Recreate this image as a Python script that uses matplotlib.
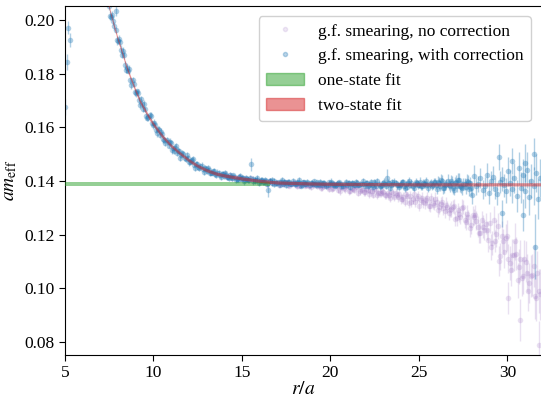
import numpy as np
import matplotlib
matplotlib.use('Agg')
import matplotlib.pyplot as plt
from matplotlib.lines import Line2D
from matplotlib.patches import Patch

plt.rcParams['font.family'] = ['Liberation Serif', 'DejaVu Serif']
plt.rcParams['mathtext.fontset'] = 'stix'
plt.rcParams['font.size'] = 12.5

# g.f. smearing, with correction
r_corr = [5.00, 5.10, 5.20, 5.29, 5.39, 5.57, 5.75, 6.00, 6.40, 6.80, 7.20,
          7.50, 7.62, 7.74, 7.86, 7.90, 7.98, 8.10, 8.22, 8.34, 8.46, 8.58, 8.70, 8.82, 8.94,
          9.06, 9.18, 9.30, 9.42, 9.54, 9.66, 9.78, 9.90, 10.02, 10.14, 10.26, 10.38, 10.50,
          10.62, 10.74, 10.86, 10.98, 11.10, 11.22, 11.34, 11.46, 11.58, 11.70, 11.82, 11.94,
          12.06, 12.18, 12.30, 12.42, 12.54, 12.66, 12.78, 12.90, 13.02, 13.14, 13.26, 13.38,
          13.50, 13.62, 13.74, 13.86, 13.98, 14.10, 14.22, 14.34, 14.46, 14.58, 14.70, 14.82,
          14.94, 15.06, 15.18, 15.30, 15.42, 15.52, 15.64, 15.76, 15.88, 16.00, 16.12, 16.24,
          16.36, 16.48, 16.60, 16.72, 16.84, 16.96,
          17.08, 17.20, 17.32, 17.44, 17.56, 17.68, 17.80, 17.92, 18.04, 18.16, 18.28, 18.40,
          18.52, 18.64, 18.76, 18.88, 19.00, 19.12, 19.24, 19.36, 19.48, 19.60, 19.72, 19.84,
          19.96, 20.08, 20.20, 20.32, 20.44, 20.56, 20.68, 20.80, 20.92, 21.04, 21.16, 21.28,
          21.40, 21.52, 21.64, 21.76, 21.88, 22.00, 22.12, 22.24, 22.36, 22.48, 22.60, 22.72,
          22.84, 22.96, 23.08, 23.20, 23.32, 23.44, 23.56, 23.68, 23.80, 23.92, 24.04, 24.16,
          24.28, 24.40, 24.52, 24.64, 24.76, 24.88, 25.00, 25.12, 25.24, 25.36, 25.48, 25.60,
          25.72, 25.84, 25.96, 26.08, 26.20, 26.32, 26.44, 26.56, 26.68, 26.80, 26.92, 27.04,
          27.16, 27.28, 27.40, 27.52, 27.64, 27.76, 27.88, 28.00, 28.12, 28.24, 28.36, 28.48,
          28.60, 28.72, 28.84, 28.96, 29.08, 29.20, 29.32, 29.44, 29.50, 29.56, 29.68, 29.72,
          29.80, 29.92, 30.04, 30.16, 30.25, 30.28, 30.40, 30.52, 30.64, 30.76, 30.88, 30.90,
          31.00, 31.02, 31.12, 31.24, 31.36, 31.48, 31.50, 31.55, 31.60, 31.72, 31.84]
m_corr = [0.1675, 0.1845, 0.1972, 0.1927, 0.2110, 0.2250, 0.2350, 0.2400, 0.2380, 0.2300, 0.2160,
          0.2054, 0.2011, 0.1997, 0.1964, 0.2035, 0.1921, 0.1918, 0.1872, 0.1870, 0.1816, 0.1812,
          0.1776, 0.1778, 0.1731, 0.1735, 0.1703, 0.1706, 0.1668, 0.1668, 0.1636, 0.1645, 0.1616,
          0.1618, 0.1591, 0.1596, 0.1571, 0.1577, 0.1552, 0.1553, 0.1532, 0.1542, 0.1522, 0.1525,
          0.1505, 0.1512, 0.1497, 0.1500, 0.1481, 0.1485, 0.1470, 0.1477, 0.1461, 0.1465, 0.1451,
          0.1455, 0.1445, 0.1449, 0.1436, 0.1441, 0.1432, 0.1436, 0.1427, 0.1432, 0.1421, 0.1426,
          0.1418, 0.1424, 0.1416, 0.1423, 0.1412, 0.1416, 0.1409, 0.1417, 0.1409, 0.1412, 0.1404,
          0.1409, 0.1403, 0.1462, 0.1408, 0.1400, 0.1405, 0.1399, 0.1404, 0.1397, 0.1401, 0.1366,
          0.1400, 0.1394, 0.1400, 0.1393,
          0.1395, 0.1398, 0.1390, 0.1396, 0.1392, 0.1398, 0.1390, 0.1393, 0.1390, 0.1396, 0.1394,
          0.1387, 0.1396, 0.1391, 0.1392, 0.1394, 0.1389, 0.1390, 0.1396, 0.1387, 0.1392, 0.1394,
          0.1388, 0.1386, 0.1391, 0.1392, 0.1390, 0.1387, 0.1394, 0.1390, 0.1388, 0.1391, 0.1385,
          0.1394, 0.1388, 0.1392, 0.1387, 0.1394, 0.1385, 0.1390, 0.1388, 0.1394, 0.1381, 0.1391,
          0.1386, 0.1396, 0.1383, 0.1389, 0.1382, 0.1392, 0.1390, 0.1412, 0.1394, 0.1386, 0.1388,
          0.1393, 0.1384, 0.1386, 0.1395, 0.1382, 0.1390, 0.1394, 0.1385, 0.1381, 0.1390, 0.1392,
          0.1387, 0.1383, 0.1394, 0.1389, 0.1386, 0.1391, 0.1382, 0.1396, 0.1386, 0.1398, 0.1382,
          0.1402, 0.1375, 0.1391, 0.1386, 0.1399, 0.1374, 0.1394, 0.1383, 0.1404, 0.1378, 0.1390,
          0.1377, 0.1396, 0.1393, 0.1348, 0.1420, 0.1380, 0.1388, 0.1412, 0.1368, 0.1380, 0.1424,
          0.1356, 0.1400, 0.1416, 0.1372, 0.1352, 0.1490, 0.1396, 0.1408, 0.1280, 0.1384, 0.1364,
          0.1436, 0.1394, 0.1475, 0.1370, 0.1412, 0.1346, 0.1448, 0.1376, 0.1424, 0.1275, 0.1364,
          0.1468, 0.1442, 0.1340, 0.1400, 0.1382, 0.1500, 0.1156, 0.1430, 0.1334, 0.1412]
e_corr = [0.0030, 0.0030, 0.0025, 0.0025, 0.0030, 0.0030, 0.0030, 0.0030, 0.0030, 0.0030, 0.0025,
          0.0015, 0.0012, 0.0014, 0.0012, 0.0018, 0.0010, 0.0013, 0.0011, 0.0014, 0.0012, 0.0010,
          0.0013, 0.0011, 0.0012, 0.0010, 0.0014, 0.0011, 0.0012, 0.0010, 0.0013, 0.0011, 0.0010,
          0.0012, 0.0011, 0.0010, 0.0012, 0.0010, 0.0011, 0.0012, 0.0010, 0.0011, 0.0010, 0.0012,
          0.0010, 0.0011, 0.0010, 0.0012, 0.0010, 0.0011, 0.0010, 0.0012, 0.0010, 0.0011, 0.0010,
          0.0012, 0.0010, 0.0011, 0.0010, 0.0012, 0.0010, 0.0011, 0.0010, 0.0012, 0.0010, 0.0011,
          0.0010, 0.0012, 0.0010, 0.0011, 0.0010, 0.0012, 0.0010, 0.0011, 0.0010, 0.0012, 0.0010,
          0.0011, 0.0010, 0.0025, 0.0011, 0.0010, 0.0012, 0.0010, 0.0011, 0.0010, 0.0012, 0.0025,
          0.0010, 0.0011, 0.0010, 0.0012,
          0.0008, 0.0010, 0.0008, 0.0009, 0.0008, 0.0010, 0.0008, 0.0009, 0.0008, 0.0010, 0.0008,
          0.0009, 0.0008, 0.0010, 0.0008, 0.0009, 0.0008, 0.0010, 0.0008, 0.0009, 0.0008, 0.0010,
          0.0008, 0.0009, 0.0008, 0.0010, 0.0008, 0.0009, 0.0008, 0.0010, 0.0008, 0.0009, 0.0008,
          0.0010, 0.0008, 0.0009, 0.0008, 0.0010, 0.0008, 0.0009, 0.0008, 0.0011, 0.0012, 0.0010,
          0.0011, 0.0013, 0.0010, 0.0012, 0.0011, 0.0010, 0.0012, 0.0035, 0.0011, 0.0012, 0.0010,
          0.0013, 0.0011, 0.0012, 0.0013, 0.0011, 0.0012, 0.0014, 0.0012, 0.0013, 0.0012, 0.0014,
          0.0013, 0.0015, 0.0013, 0.0014, 0.0013, 0.0015, 0.0014, 0.0016, 0.0014, 0.0020, 0.0018,
          0.0022, 0.0020, 0.0018, 0.0020, 0.0024, 0.0022, 0.0020, 0.0022, 0.0026, 0.0024, 0.0022,
          0.0025, 0.0026, 0.0024, 0.0035, 0.0040, 0.0032, 0.0030, 0.0038, 0.0036, 0.0034, 0.0042,
          0.0040, 0.0036, 0.0040, 0.0038, 0.0042, 0.0050, 0.0040, 0.0044, 0.0050, 0.0042, 0.0046,
          0.0055, 0.0048, 0.0050, 0.0052, 0.0056, 0.0060, 0.0062, 0.0058, 0.0060, 0.0060, 0.0064,
          0.0070, 0.0066, 0.0068, 0.0064, 0.0070, 0.0060, 0.0120, 0.0072, 0.0075, 0.0070]

# with correction, the other lattice distances in between
r_corr2 = [7.56, 7.68, 7.80, 7.92, 8.04, 8.16, 8.28, 8.40, 8.52, 8.64, 8.76, 8.88, 9.00, 9.12,
           9.24, 9.36, 9.48, 9.60, 9.72, 9.84, 9.96, 10.08, 10.20, 10.32, 10.44, 10.56, 10.68,
           10.80, 10.92, 11.04, 11.16, 11.28, 11.40, 11.52, 11.64, 11.76, 11.88, 12.00, 12.12,
           12.24, 12.36, 12.48, 12.60, 12.72, 12.84, 12.96, 13.08, 13.20, 13.32, 13.44, 13.56,
           13.68, 13.80, 13.92, 14.04, 14.16, 14.28, 14.40, 14.52, 14.64, 14.76, 14.88, 15.00,
           15.12, 15.24, 15.36, 15.48, 15.60, 15.72, 15.84, 15.96, 16.08, 16.20, 16.32, 16.44,
           16.56, 16.68, 16.80, 16.92,
           17.14, 17.26, 17.38, 17.50, 17.62, 17.74, 17.86, 17.98, 18.10, 18.22, 18.34, 18.46,
           18.58, 18.70, 18.82, 18.94, 19.06, 19.18, 19.30, 19.42, 19.54, 19.66, 19.78, 19.90,
           20.02, 20.14, 20.26, 20.38, 20.50, 20.62, 20.74, 20.86, 20.98, 21.10, 21.22, 21.34,
           21.46, 21.58, 21.70, 21.82, 21.94, 22.06, 22.18, 22.30, 22.42, 22.54, 22.66, 22.78,
           22.90, 23.02, 23.14, 23.26, 23.38, 23.50, 23.62, 23.74, 23.86, 23.98, 24.10, 24.22,
           24.34, 24.46, 24.58, 24.70, 24.82, 24.94, 25.06, 25.18, 25.30, 25.42, 25.54, 25.66,
           25.78, 25.90, 26.02, 26.14, 26.26, 26.38, 26.50, 26.62, 26.74, 26.86, 26.98, 27.10,
           27.22, 27.34, 27.46, 27.58, 27.70, 27.82, 27.94]
m_corr2 = [0.2017, 0.2019, 0.1978, 0.1925, 0.1929, 0.1890, 0.1885, 0.1833, 0.1820, 0.1817,
           0.1758, 0.1764, 0.1729, 0.1729, 0.1683, 0.1688, 0.1687, 0.1643, 0.1639, 0.1642,
           0.1608, 0.1610, 0.1579, 0.1592, 0.1585, 0.1558, 0.1543, 0.1546, 0.1546, 0.1516,
           0.1513, 0.1530, 0.1514, 0.1488, 0.1504, 0.1487, 0.1496, 0.1470, 0.1474, 0.1482,
           0.1449, 0.1464, 0.1449, 0.1458, 0.1434, 0.1445, 0.1448, 0.1430, 0.1432, 0.1437,
           0.1424, 0.1429, 0.1414, 0.1427, 0.1429, 0.1416, 0.1411, 0.1417, 0.1421, 0.1405,
           0.1406, 0.1420, 0.1413, 0.1399, 0.1413, 0.1404, 0.1413, 0.1399, 0.1404, 0.1412,
           0.1392, 0.1404, 0.1397, 0.1405, 0.1390, 0.1400, 0.1406, 0.1390, 0.1394,
           0.1387, 0.1403, 0.1397, 0.1384, 0.1398, 0.1391, 0.1401, 0.1388, 0.1394, 0.1403,
           0.1383, 0.1396, 0.1389, 0.1398, 0.1384, 0.1393, 0.1400, 0.1385, 0.1390, 0.1398,
           0.1386, 0.1393, 0.1380, 0.1395, 0.1398, 0.1387, 0.1383, 0.1391, 0.1395, 0.1380,
           0.1382, 0.1398, 0.1392, 0.1379, 0.1394, 0.1387, 0.1397, 0.1384, 0.1390, 0.1399,
           0.1380, 0.1393, 0.1384, 0.1396, 0.1378, 0.1391, 0.1400, 0.1380, 0.1387, 0.1397,
           0.1383, 0.1392, 0.1375, 0.1395, 0.1398, 0.1384, 0.1379, 0.1389, 0.1396, 0.1376,
           0.1379, 0.1400, 0.1392, 0.1375, 0.1395, 0.1385, 0.1398, 0.1381, 0.1389, 0.1401,
           0.1376, 0.1393, 0.1384, 0.1396, 0.1372, 0.1392, 0.1406, 0.1376, 0.1386, 0.1402,
           0.1380, 0.1394, 0.1368, 0.1398, 0.1404, 0.1382, 0.1374, 0.1390, 0.1400, 0.1370,
           0.1374]
e_corr2 = [0.0018, 0.0016, 0.0015, 0.0017, 0.0015, 0.0016, 0.0014, 0.0016, 0.0015, 0.0017,
           0.0015, 0.0014, 0.0016, 0.0015, 0.0014, 0.0016, 0.0015, 0.0014, 0.0013, 0.0015,
           0.0014, 0.0013, 0.0015, 0.0014, 0.0013, 0.0014, 0.0013, 0.0012, 0.0014, 0.0013,
           0.0012, 0.0014, 0.0013, 0.0012, 0.0013, 0.0012, 0.0013, 0.0012, 0.0011, 0.0013,
           0.0012, 0.0011, 0.0012, 0.0013, 0.0011, 0.0012, 0.0011, 0.0012, 0.0011, 0.0013,
           0.0011, 0.0012, 0.0011, 0.0012, 0.0011, 0.0012, 0.0011, 0.0012, 0.0011, 0.0012,
           0.0011, 0.0012, 0.0011, 0.0012, 0.0011, 0.0012, 0.0011, 0.0012, 0.0011, 0.0012,
           0.0011, 0.0012, 0.0011, 0.0012, 0.0011, 0.0012, 0.0011, 0.0012, 0.0011,
           0.0009, 0.0011, 0.0010, 0.0009, 0.0011, 0.0010, 0.0012, 0.0009, 0.0010, 0.0011,
           0.0009, 0.0010, 0.0011, 0.0009, 0.0010, 0.0012, 0.0009, 0.0010, 0.0011, 0.0009,
           0.0010, 0.0011, 0.0009, 0.0010, 0.0012, 0.0009, 0.0010, 0.0011, 0.0009, 0.0010,
           0.0011, 0.0009, 0.0010, 0.0012, 0.0009, 0.0010, 0.0011, 0.0009, 0.0010, 0.0011,
           0.0009, 0.0012, 0.0014, 0.0013, 0.0012, 0.0015, 0.0013, 0.0012, 0.0014, 0.0013,
           0.0012, 0.0015, 0.0013, 0.0014, 0.0012, 0.0016, 0.0013, 0.0014, 0.0012, 0.0015,
           0.0013, 0.0014, 0.0016, 0.0013, 0.0015, 0.0014, 0.0016, 0.0013, 0.0015, 0.0014,
           0.0016, 0.0014, 0.0015, 0.0016, 0.0020, 0.0022, 0.0021, 0.0024, 0.0020, 0.0023,
           0.0022, 0.0025, 0.0021, 0.0024, 0.0026, 0.0022, 0.0025, 0.0023, 0.0027, 0.0024,
           0.0028]

# g.f. smearing, no correction
r_nocorr = [14.00, 14.15, 14.30, 14.45, 14.60, 14.75, 14.90, 15.05, 15.20, 15.35, 15.50, 15.65,
            15.80, 15.95, 16.10, 16.25, 16.40, 16.55, 16.70, 16.85, 17.00, 17.15, 17.30, 17.45,
            17.60, 17.75, 17.90, 18.05, 18.20, 18.35, 18.50, 18.65, 18.80, 18.95, 19.10, 19.25,
            19.40, 19.55, 19.70, 19.85, 20.00, 20.15, 20.30, 20.45, 20.60, 20.75, 20.90, 21.05,
            21.20, 21.35, 21.50, 21.65, 21.80, 21.95, 22.10, 22.25, 22.40, 22.55, 22.70, 22.85,
            23.00, 23.15, 23.30, 23.45, 23.60, 23.75, 23.90, 24.05, 24.20, 24.35, 24.50, 24.65,
            24.80, 24.95, 25.10, 25.25, 25.40, 25.55, 25.70, 25.85, 26.00, 26.15, 26.30, 26.45,
            26.60, 26.75, 26.90, 27.05, 27.20, 27.35, 27.50, 27.65, 27.80, 27.95, 28.10, 28.25,
            28.40, 28.55, 28.70, 28.85, 29.00, 29.15, 29.30, 29.45, 29.60, 29.75, 29.90, 30.02,
            30.05, 30.20, 30.35, 30.50, 30.65, 30.70, 30.80, 30.95, 31.10, 31.25, 31.40, 31.55,
            31.70, 31.80, 31.85]
m_nocorr = [0.1425, 0.1417, 0.1423, 0.1411, 0.1415, 0.1411, 0.1415, 0.1404, 0.1410, 0.1404,
            0.1411, 0.1399, 0.1403, 0.1396, 0.1402, 0.1400, 0.1391, 0.1401, 0.1394, 0.1393,
            0.1396, 0.1388, 0.1390, 0.1395, 0.1385, 0.1391, 0.1393, 0.1386, 0.1382, 0.1388,
            0.1389, 0.1384, 0.1381, 0.1389, 0.1385, 0.1381, 0.1384, 0.1377, 0.1386, 0.1378,
            0.1385, 0.1374, 0.1386, 0.1368, 0.1377, 0.1373, 0.1380, 0.1363, 0.1375, 0.1367,
            0.1379, 0.1362, 0.1367, 0.1358, 0.1368, 0.1365, 0.1350, 0.1367, 0.1355, 0.1356,
            0.1360, 0.1347, 0.1349, 0.1358, 0.1339, 0.1349, 0.1351, 0.1335, 0.1324, 0.1343,
            0.1346, 0.1333, 0.1322, 0.1345, 0.1330, 0.1321, 0.1330, 0.1308, 0.1336, 0.1312,
            0.1324, 0.1302, 0.1322, 0.1288, 0.1303, 0.1293, 0.1304, 0.1260, 0.1294, 0.1268,
            0.1303, 0.1249, 0.1265, 0.1236, 0.1266, 0.1253, 0.1207, 0.1254, 0.1217, 0.1216,
            0.1245, 0.1169, 0.1176, 0.1232, 0.1119, 0.1175, 0.1188, 0.0965, 0.1111, 0.1069,
            0.1123, 0.1129, 0.1081, 0.0882, 0.1039, 0.1111, 0.1058, 0.1021, 0.1049, 0.0970,
            0.1059, 0.0790, 0.0978]
e_nocorr = [0.0008, 0.0009, 0.0008, 0.0010, 0.0008, 0.0009, 0.0008, 0.0010, 0.0008, 0.0009,
            0.0008, 0.0010, 0.0008, 0.0009, 0.0008, 0.0010, 0.0008, 0.0009, 0.0008, 0.0010,
            0.0009, 0.0010, 0.0009, 0.0011, 0.0009, 0.0010, 0.0009, 0.0011, 0.0009, 0.0010,
            0.0009, 0.0011, 0.0009, 0.0010, 0.0010, 0.0011, 0.0010, 0.0012, 0.0010, 0.0011,
            0.0011, 0.0012, 0.0011, 0.0013, 0.0011, 0.0012, 0.0011, 0.0013, 0.0012, 0.0013,
            0.0012, 0.0014, 0.0012, 0.0013, 0.0013, 0.0014, 0.0013, 0.0015, 0.0013, 0.0014,
            0.0014, 0.0015, 0.0014, 0.0016, 0.0014, 0.0015, 0.0015, 0.0017, 0.0016, 0.0018,
            0.0016, 0.0017, 0.0018, 0.0019, 0.0018, 0.0020, 0.0018, 0.0021, 0.0019, 0.0021,
            0.0022, 0.0024, 0.0022, 0.0025, 0.0023, 0.0026, 0.0024, 0.0028, 0.0026, 0.0029,
            0.0027, 0.0030, 0.0028, 0.0032, 0.0030, 0.0034, 0.0036, 0.0034, 0.0038, 0.0036,
            0.0040, 0.0045, 0.0042, 0.0048, 0.0050, 0.0046, 0.0052, 0.0060, 0.0055, 0.0060,
            0.0058, 0.0062, 0.0065, 0.0080, 0.0068, 0.0070, 0.0072, 0.0075, 0.0078, 0.0085,
            0.0080, 0.0090, 0.0095]

r_nocorr2 = [17.08, 17.23, 17.38, 17.53, 17.68, 17.83, 17.98, 18.13, 18.28, 18.43, 18.58, 18.73,
             18.88, 19.03, 19.18, 19.33, 19.48, 19.63, 19.78, 19.93, 20.08, 20.23, 20.38, 20.53,
             20.68, 20.83, 20.98, 21.13, 21.28, 21.43, 21.58, 21.73, 21.88, 22.03, 22.18, 22.33,
             22.48, 22.63, 22.78, 22.93, 23.08, 23.23, 23.38, 23.53, 23.68, 23.83, 23.98, 24.13,
             24.28, 24.43, 24.58, 24.73, 24.88, 25.03, 25.18, 25.33, 25.48, 25.63, 25.78, 25.93,
             26.08, 26.23, 26.38, 26.53, 26.68, 26.83, 26.98, 27.13, 27.28, 27.43, 27.58, 27.73,
             27.88, 28.03, 28.18, 28.33, 28.48, 28.63, 28.78, 28.93, 29.08, 29.23, 29.38, 29.53,
             29.68, 29.83, 29.98, 30.13, 30.28, 30.43, 30.58, 30.73, 30.88, 31.03, 31.18, 31.33,
             31.48, 31.63, 31.78]
m_nocorr2 = [0.1385, 0.1394, 0.1388, 0.1395, 0.1383, 0.1391, 0.1395, 0.1383, 0.1386, 0.1392,
             0.1383, 0.1387, 0.1377, 0.1388, 0.1389, 0.1380, 0.1376, 0.1382, 0.1385, 0.1372,
             0.1370, 0.1388, 0.1380, 0.1363, 0.1380, 0.1371, 0.1382, 0.1365, 0.1371, 0.1380,
             0.1356, 0.1371, 0.1360, 0.1370, 0.1352, 0.1362, 0.1370, 0.1350, 0.1355, 0.1363,
             0.1348, 0.1355, 0.1337, 0.1354, 0.1356, 0.1340, 0.1334, 0.1342, 0.1351, 0.1319,
             0.1321, 0.1351, 0.1337, 0.1309, 0.1337, 0.1320, 0.1338, 0.1309, 0.1319, 0.1334,
             0.1293, 0.1315, 0.1298, 0.1312, 0.1281, 0.1297, 0.1307, 0.1263, 0.1277, 0.1300,
             0.1256, 0.1276, 0.1225, 0.1272, 0.1275, 0.1230, 0.1208, 0.1230, 0.1241, 0.1180,
             0.1155, 0.1256, 0.1204, 0.1102, 0.1197, 0.1137, 0.1196, 0.1094, 0.1124, 0.1175,
             0.1030, 0.1109, 0.1048, 0.1099, 0.0989, 0.1046, 0.1082, 0.0964, 0.0989]
e_nocorr2 = [0.0009, 0.0010, 0.0009, 0.0011, 0.0009, 0.0010, 0.0009, 0.0011, 0.0010, 0.0011,
             0.0010, 0.0011, 0.0010, 0.0012, 0.0010, 0.0011, 0.0011, 0.0012, 0.0011, 0.0012,
             0.0012, 0.0013, 0.0012, 0.0013, 0.0012, 0.0014, 0.0013, 0.0014, 0.0013, 0.0015,
             0.0013, 0.0014, 0.0014, 0.0015, 0.0014, 0.0016, 0.0015, 0.0016, 0.0015, 0.0017,
             0.0016, 0.0017, 0.0016, 0.0018, 0.0017, 0.0018, 0.0018, 0.0019, 0.0018, 0.0020,
             0.0019, 0.0021, 0.0020, 0.0022, 0.0021, 0.0023, 0.0022, 0.0024, 0.0023, 0.0025,
             0.0025, 0.0027, 0.0026, 0.0028, 0.0027, 0.0029, 0.0028, 0.0031, 0.0030, 0.0033,
             0.0032, 0.0035, 0.0034, 0.0037, 0.0036, 0.0040, 0.0038, 0.0042, 0.0040, 0.0045,
             0.0048, 0.0052, 0.0050, 0.0056, 0.0054, 0.0060, 0.0058, 0.0064, 0.0062, 0.0068,
             0.0066, 0.0072, 0.0070, 0.0076, 0.0074, 0.0080, 0.0078, 0.0085, 0.0082]

# one-state fit (plateau) and two-state fit (curve)
one_r = [4.5, 16.6]
one_m = [0.1389, 0.1389]
one_err = [0.0006, 0.0006]

fit_r = [7.0, 7.25, 7.5, 7.75, 8.0, 8.25, 8.5, 8.75, 9.0, 9.25, 9.5, 9.75, 10.0, 10.5,
         11.0, 11.5, 12.0, 12.5, 13.0, 13.5, 14.0, 15.0, 16.0, 17.0, 18.0, 19.0, 20.0,
         22.0, 25.0, 28.0, 32.0]
fit_m = [0.2200, 0.2120, 0.2046, 0.1983, 0.1927, 0.1875, 0.1822, 0.1778, 0.1735, 0.1697,
         0.1667, 0.1638, 0.1612, 0.1568, 0.1532, 0.1504, 0.1478, 0.1457, 0.1441, 0.1429,
         0.1421, 0.1410, 0.1401, 0.1395, 0.1393, 0.1391, 0.1390, 0.1389, 0.1388, 0.1388, 0.1388]
fit_err = [0.0007] * 14 + [0.0006] * 17

fig = plt.figure(figsize=(5.41, 4.01), dpi=100)
ax = fig.add_axes([0.12, 0.115, 0.88, 0.87])

for r, m, e in [(r_nocorr, m_nocorr, e_nocorr), (r_nocorr2, m_nocorr2, e_nocorr2)]:
    ax.errorbar(r, m, yerr=e, fmt='o', ms=4, color='C4', alpha=0.2,
                elinewidth=1, capsize=0, mew=0)
for r, m, e in [(r_corr, m_corr, e_corr), (r_corr2, m_corr2, e_corr2)]:
    ax.errorbar(r, m, yerr=e, fmt='o', ms=4, color='C0', alpha=0.35,
                elinewidth=1, capsize=0, mew=0)

lo = np.array(one_m) - np.array(one_err)
hi = np.array(one_m) + np.array(one_err)
ax.fill_between(one_r, lo, hi, color='C2', alpha=0.5, lw=0, zorder=3)
lo = np.array(fit_m) - np.array(fit_err)
hi = np.array(fit_m) + np.array(fit_err)
ax.fill_between(fit_r, lo, hi, color='C3', alpha=0.5, lw=0, zorder=3)

ax.set_xlim(5, 31.9)
ax.set_ylim(0.0752, 0.2053)
ax.set_xticks([5, 10, 15, 20, 25, 30])
ax.set_yticks([0.08, 0.10, 0.12, 0.14, 0.16, 0.18, 0.20])
ax.set_yticklabels(['0.08', '0.10', '0.12', '0.14', '0.16', '0.18', '0.20'])
ax.spines['right'].set_visible(False)
ax.tick_params(direction='out', length=4, labelsize=12.5)
ax.set_xlabel('$r/a$', fontsize=14, labelpad=0)
ax.set_ylabel(r'$am_{\mathrm{eff}}$', fontsize=14, labelpad=4)

handles = [Line2D([], [], ls='', marker='o', ms=3, color='C4', alpha=0.15),
           Line2D([], [], ls='', marker='o', ms=3, color='C0', alpha=0.3),
           Patch(color='C2', alpha=0.5),
           Patch(color='C3', alpha=0.5)]
labels = ['g.f. smearing, no correction', 'g.f. smearing, with correction',
          'one-state fit', 'two-state fit']
ax.legend(handles, labels, loc='upper right', fontsize=12.5, framealpha=0.9,
          edgecolor='#cccccc', borderaxespad=0.6, handlelength=2.2)

fig.savefig('out.png', dpi=100)
